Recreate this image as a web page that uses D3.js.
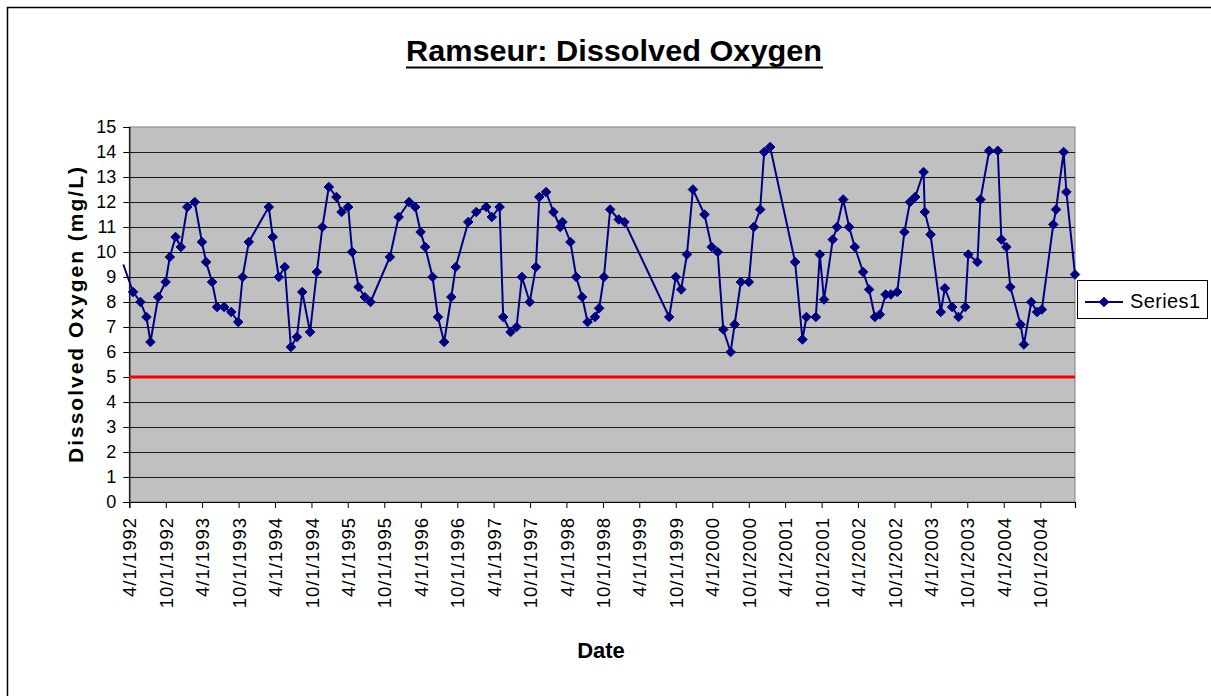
<!DOCTYPE html>
<html>
<head>
<meta charset="utf-8">
<script src="https://cdn.jsdelivr.net/npm/d3@7"></script>
<style>
  html, body { margin: 0; padding: 0; background: #fff; }
  svg { display: block; font-family: "Liberation Sans", Arial, sans-serif; }
</style>
</head>
<body>
<svg id="chart" width="1211" height="696"></svg>
<script>
const chartTitle = "Ramseur: Dissolved Oxygen";
const yTitle = "Dissolved Oxygen (mg/L)";
const xTitle = "Date";
const seriesName = "Series1";
const standard = 5;

const dates = [
"1992-03-02","1992-04-20","1992-05-27","1992-06-26","1992-07-16","1992-08-24","1992-09-30","1992-10-21","1992-11-19","1992-12-15",
"1993-01-17","1993-02-23","1993-03-31","1993-04-21","1993-05-21","1993-06-15","1993-07-20","1993-08-25","1993-09-29","1993-10-21",
"1993-11-21","1994-03-01","1994-03-21","1994-04-20","1994-05-20","1994-06-20","1994-07-20","1994-08-16","1994-09-24","1994-10-28",
"1994-11-25","1994-12-27","1995-02-03","1995-03-01","1995-04-03","1995-04-23","1995-05-25","1995-06-25","1995-07-24","1995-10-29",
"1995-12-12","1996-02-02","1996-03-04","1996-03-31","1996-04-23","1996-05-30","1996-06-26","1996-07-27","1996-09-01","1996-09-23",
"1996-11-25","1997-01-04","1997-02-23","1997-03-23","1997-05-01","1997-05-19","1997-06-25","1997-07-25","1997-08-21","1997-09-29",
"1997-10-30","1997-11-16","1997-12-20","1998-01-26","1998-03-01","1998-03-12","1998-04-21","1998-05-20","1998-06-19","1998-07-16",
"1998-08-22","1998-09-12","1998-10-06","1998-11-06","1998-12-19","1999-01-17","1999-08-29","1999-10-01","1999-10-28","1999-11-26",
"1999-12-26","2000-02-22","2000-03-29","2000-04-28","2000-05-26","2000-07-02","2000-07-22","2000-08-22","2000-10-01","2000-10-26",
"2000-11-27","2000-12-17","2001-01-16","2001-05-21","2001-06-27","2001-07-17","2001-09-02","2001-09-22","2001-10-13","2001-11-26",
"2001-12-17","2002-01-17","2002-02-16","2002-03-16","2002-04-27","2002-05-27","2002-06-25","2002-07-20","2002-08-18","2002-09-13",
"2002-10-15","2002-11-20","2002-12-18","2003-01-13","2003-02-24","2003-03-02","2003-03-31","2003-05-21","2003-06-11","2003-07-17",
"2003-08-18","2003-09-21","2003-10-06","2003-11-21","2003-12-06","2004-01-19","2004-03-02","2004-03-20","2004-04-14","2004-05-04",
"2004-06-24","2004-07-11","2004-08-17","2004-09-15","2004-10-09","2004-12-05","2004-12-19","2005-01-26","2005-02-09","2005-03-24"
];
const values = [
9.5,8.4,8.0,7.4,6.4,8.2,8.8,9.8,10.6,10.2,
11.8,12.0,10.4,9.6,8.8,7.8,7.8,7.6,7.2,9.0,
10.4,11.8,10.6,9.0,9.4,6.2,6.6,8.4,6.8,9.2,
11.0,12.6,12.2,11.6,11.8,10.0,8.6,8.2,8.0,9.8,
11.4,12.0,11.8,10.8,10.2,9.0,7.4,6.4,8.2,9.4,
11.2,11.6,11.8,11.4,11.8,7.4,6.8,7.0,9.0,8.0,
9.4,12.2,12.4,11.6,11.0,11.2,10.4,9.0,8.2,7.2,
7.4,7.75,9.0,11.7,11.3,11.2,7.4,9.0,8.5,9.9,
12.5,11.5,10.2,10.0,6.9,6.0,7.1,8.8,8.8,11.0,
11.7,14.0,14.2,9.6,6.5,7.4,7.4,9.9,8.1,10.5,
11.0,12.1,11.0,10.2,9.2,8.5,7.4,7.5,8.3,8.3,
8.4,10.8,12.0,12.2,13.2,11.6,10.7,7.6,8.55,7.8,
7.4,7.8,9.9,9.6,12.1,14.05,14.05,10.5,10.2,8.6,
7.1,6.3,8.0,7.6,7.7,11.1,11.7,14.0,12.4,9.1
];
const xTickLabels = ["4/1/1992","10/1/1992","4/1/1993","10/1/1993","4/1/1994","10/1/1994","4/1/1995","10/1/1995",
"4/1/1996","10/1/1996","4/1/1997","10/1/1997","4/1/1998","10/1/1998","4/1/1999","10/1/1999","4/1/2000","10/1/2000",
"4/1/2001","10/1/2001","4/1/2002","10/1/2002","4/1/2003","10/1/2003","4/1/2004","10/1/2004"];
const yTicks = [0,1,2,3,4,5,6,7,8,9,10,11,12,13,14,15];

const parseIso = d3.utcParse("%Y-%m-%d");
const parseTick = d3.utcParse("%m/%d/%Y");
const data = dates.map((d, i) => ({ date: parseIso(d), value: values[i] }));
const tickDates = xTickLabels.map(parseTick);

const svg = d3.select("#chart");
const L = 129.3, R = 1075, T = 127, B = 502;
const FONT = "'Liberation Sans', Arial, sans-serif";

// outer border
svg.append("rect").attr("x", 7.5).attr("y", 7.5).attr("width", 1240).attr("height", 720)
  .attr("fill", "#fff").attr("stroke", "#000").attr("stroke-width", 1.5);

const x = d3.scaleUtc().domain([parseTick("4/1/1992"), parseIso("2005-03-24")]).range([L, R]);
const y = d3.scaleLinear().domain([0, 15]).range([B, T]);

// plot area
svg.append("rect").attr("x", L).attr("y", T).attr("width", R - L).attr("height", B - T)
  .attr("fill", "#C0C0C0").attr("stroke", "#808080").attr("stroke-width", 1);

// gridlines
svg.append("g").selectAll("line").data(yTicks.filter(v => v > 0 && v < 15)).join("line")
  .attr("x1", L).attr("x2", R).attr("y1", d => Math.round(y(d)) + 0.5).attr("y2", d => Math.round(y(d)) + 0.5)
  .attr("stroke", "#1a1a1a").attr("stroke-width", 1);

// y axis
const yAxis = svg.append("g").attr("transform", `translate(${L},0)`)
  .call(d3.axisLeft(y).tickValues(yTicks).tickSize(6).tickPadding(7).tickFormat(d3.format("d")));
yAxis.attr("font-family", FONT);
yAxis.select(".domain").attr("stroke", "#000").attr("stroke-width", 1.2);
yAxis.selectAll(".tick line").attr("stroke", "#000");
yAxis.selectAll("text").attr("font-size", 18).attr("fill", "#000");

// x axis
const xAxis = svg.append("g").attr("transform", `translate(0,${B})`)
  .call(d3.axisBottom(x).tickValues(tickDates).tickSize(6).tickFormat((d, i) => xTickLabels[i]));
xAxis.attr("font-family", FONT);
xAxis.select(".domain").attr("stroke", "#000").attr("stroke-width", 1.2);
xAxis.selectAll(".tick line").attr("stroke", "#000");
xAxis.selectAll("text")
  .attr("font-size", 18.5).attr("fill", "#000").attr("letter-spacing", "1px")
  .attr("text-anchor", "end")
  .attr("transform", "rotate(-90)")
  .attr("x", -15).attr("y", 0).attr("dy", "0.36em");

// standard line
svg.append("line").attr("x1", L).attr("x2", R).attr("y1", y(standard)).attr("y2", y(standard))
  .attr("stroke", "#FF0000").attr("stroke-width", 3);

// series line
const line = d3.line().x(d => x(d.date)).y(d => y(d.value));
svg.append("path").datum(data).attr("d", line)
  .attr("fill", "none").attr("stroke", "#000080").attr("stroke-width", 2).attr("stroke-linejoin", "round");

// markers
const diamond = d3.symbol().type(d3.symbolDiamond2).size(58);
svg.append("g").selectAll("path").data(data.filter(d => x(d.date) >= L - 0.5)).join("path")
  .attr("d", diamond)
  .attr("transform", d => `translate(${x(d.date)},${y(d.value)})`)
  .attr("fill", "#000080").attr("stroke", "#000080").attr("stroke-width", 1);

// title
svg.append("text").attr("x", 614).attr("y", 61).attr("text-anchor", "middle")
  .attr("font-size", 30).attr("font-weight", "bold").attr("fill", "#000")
  .attr("textLength", 416).attr("lengthAdjust", "spacingAndGlyphs")
  .text(chartTitle);
svg.append("line").attr("x1", 406).attr("x2", 823).attr("y1", 67.5).attr("y2", 67.5)
  .attr("stroke", "#000").attr("stroke-width", 2.2);

// y title
svg.append("text").attr("transform", "translate(83,315) rotate(-90)").attr("text-anchor", "middle")
  .attr("font-size", 21).attr("font-weight", "bold").attr("fill", "#000")
  .attr("textLength", 296).attr("lengthAdjust", "spacing")
  .text(yTitle);

// x title
svg.append("text").attr("x", 601).attr("y", 658).attr("text-anchor", "middle")
  .attr("font-size", 22).attr("font-weight", "bold").attr("fill", "#000")
  .text(xTitle);

// legend
const lg = svg.append("g");
lg.append("rect").attr("x", 1077.5).attr("y", 280.5).attr("width", 130).attr("height", 38)
  .attr("fill", "#fff").attr("stroke", "#000").attr("stroke-width", 1);
lg.append("line").attr("x1", 1085).attr("x2", 1123).attr("y1", 302).attr("y2", 302)
  .attr("stroke", "#000080").attr("stroke-width", 2);
lg.append("path").attr("d", diamond).attr("transform", "translate(1104,302)")
  .attr("fill", "#000080").attr("stroke", "#000080");
lg.append("text").attr("x", 1130).attr("y", 308).attr("font-size", 20).attr("fill", "#000")
  .attr("textLength", 70).attr("lengthAdjust", "spacing")
  .text(seriesName);
</script>
</body>
</html>
